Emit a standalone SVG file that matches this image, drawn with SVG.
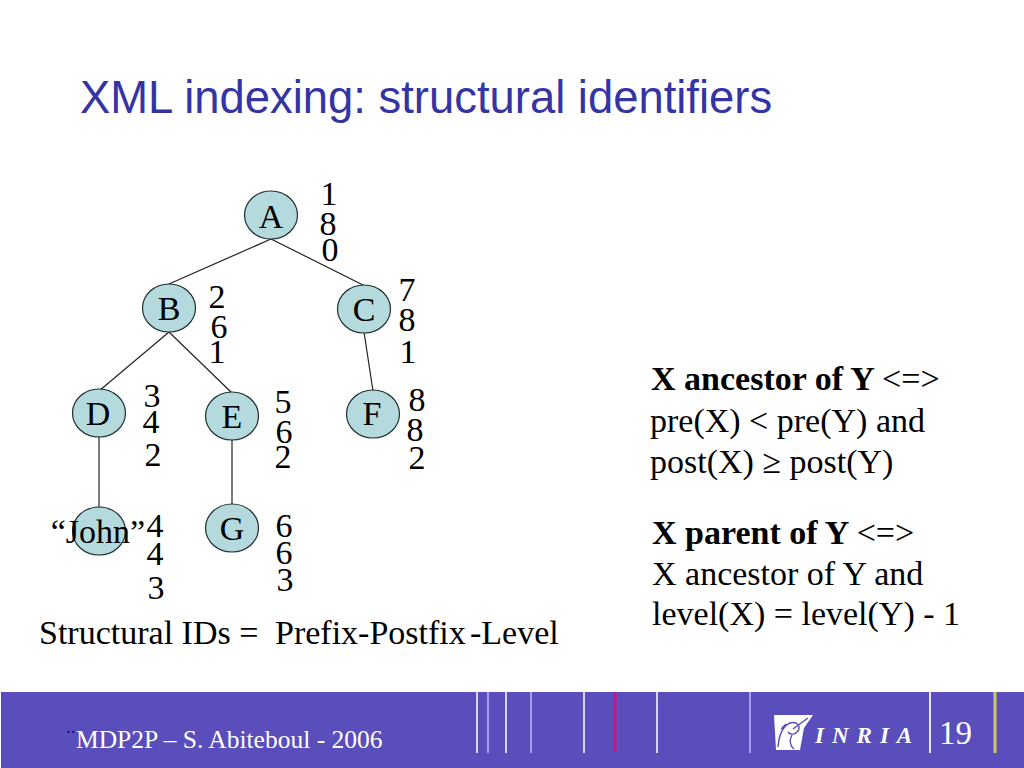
<svg xmlns="http://www.w3.org/2000/svg" width="1024" height="768" viewBox="0 0 1024 768">
<style>
text{font-family:"Liberation Serif","Times New Roman",serif;fill:#000}
.n{font-size:34px;text-anchor:middle}
.b{font-size:34px}
.bb{font-size:34px;font-weight:bold}
.node{fill:#b4dade;stroke:#1f2f2f;stroke-width:1.2}
.edge{stroke:#222;stroke-width:1.2;fill:none}
.bar{stroke-width:2;fill:none}
</style>
<rect width="1024" height="768" fill="#fff"/>
<text x="80" y="113" style="font-family:'Liberation Sans',Arial,sans-serif;font-size:45.4px;fill:#3434a4">XML indexing: structural identifiers</text>
<g id="connectors">
<line class="edge" x1="271" y1="239" x2="169" y2="284"/>
<line class="edge" x1="271" y1="239" x2="363" y2="285"/>
<line class="edge" x1="169" y1="332" x2="99" y2="391"/>
<line class="edge" x1="169" y1="332" x2="232" y2="393"/>
<line class="edge" x1="364" y1="332" x2="373" y2="391"/>
<line class="edge" x1="99" y1="437" x2="99" y2="507"/>
<line class="edge" x1="232" y1="440" x2="232" y2="504"/>
</g>
<g id="node-A"><ellipse class="node" cx="271" cy="215" rx="26.5" ry="24"/><text class="n" x="271" y="228">A</text></g>
<g id="node-B"><ellipse class="node" cx="169" cy="308" rx="26.5" ry="24"/><text class="n" x="169" y="320">B</text></g>
<g id="node-C"><ellipse class="node" cx="364" cy="309" rx="26.5" ry="24"/><text class="n" x="364" y="321">C</text></g>
<g id="node-D"><ellipse class="node" cx="99" cy="413" rx="26.5" ry="24"/><text class="n" x="98" y="425">D</text></g>
<g id="node-E"><ellipse class="node" cx="232" cy="416" rx="26.5" ry="24"/><text class="n" x="232" y="428">E</text></g>
<g id="node-F"><ellipse class="node" cx="373" cy="414" rx="26.5" ry="24"/><text class="n" x="372" y="425">F</text></g>
<g id="node-John"><ellipse class="node" cx="99" cy="531" rx="26.5" ry="24"/><text class="n" x="98" y="543">“John”</text></g>
<g id="node-G"><ellipse class="node" cx="232" cy="528" rx="26.5" ry="24"/><text class="n" x="232" y="540">G</text></g>
<g id="numbers">
<text class="n" x="329" y="205">1</text><text class="n" x="328" y="235">8</text><text class="n" x="330" y="261">0</text>
<text class="n" x="217" y="308">2</text><text class="n" x="219" y="338">6</text><text class="n" x="217" y="363">1</text>
<text class="n" x="407" y="301">7</text><text class="n" x="407" y="331">8</text><text class="n" x="408" y="363">1</text>
<text class="n" x="152" y="407">3</text><text class="n" x="151" y="433">4</text><text class="n" x="153" y="466">2</text>
<text class="n" x="283" y="413">5</text><text class="n" x="284" y="443">6</text><text class="n" x="283" y="468">2</text>
<text class="n" x="417" y="411">8</text><text class="n" x="415" y="441">8</text><text class="n" x="417" y="469">2</text>
<text class="n" x="155" y="537">4</text><text class="n" x="155" y="565">4</text><text class="n" x="156" y="599">3</text>
<text class="n" x="284" y="537">6</text><text class="n" x="284" y="564">6</text><text class="n" x="285" y="591">3</text>
</g>
<g id="caption">
<text class="b" x="39" y="644">Structural IDs =</text>
<text class="b" x="275" y="644">Prefix-Postfix</text>
<text class="b" x="470" y="644">-Level</text>
</g>
<text class="bb" x="651" y="390">X ancestor of Y <tspan font-weight="normal">&lt;=&gt;</tspan></text>
<text class="b" x="650" y="432">pre(X) &lt; pre(Y) and</text>
<text class="b" x="650" y="473">post(X) ≥ post(Y)</text>
<text class="bb" x="652" y="544">X parent of Y <tspan font-weight="normal">&lt;=&gt;</tspan></text>
<text class="b" x="652" y="585">X ancestor of Y and</text>
<text class="b" x="652" y="625">level(X) = level(Y) - 1</text>
<rect x="1" y="692" width="1023" height="76" fill="#5a4ebc"/>
<g id="bars">
<path class="bar" stroke="#d8d4f4" d="M477 692V753M506 692V753M584 692V753M657 692V753"/>
<path class="bar" stroke="#a49cec" d="M488 692V753M531 692V753M750 692V753"/>
<path class="bar" stroke="#cc1480" style="stroke-width:3" d="M615 692V752"/>
<path class="bar" stroke="#e8e6fa" d="M930 692V753"/>
<path class="bar" stroke="#cfc860" style="stroke-width:3" d="M995 692V753"/>
</g>
<text x="66" y="737" style="font-size:14px;font-weight:bold;fill:#10107a">··</text>
<text x="76" y="748" style="font-size:25.5px;fill:#fff">MDP2P – S. Abiteboul - 2006</text>
<g id="logo">
<path fill="#fff" d="M774 715H813L804 728L800 750H776Z"/>
<path fill="none" stroke="#5a4ebc" stroke-width="1.4" d="M778 747C779 735 783 726 790 723C797 721 801 726 798 731C795 735 790 735 788 732M808 718L793 729M781 729L786 724M792 735C789 740 790 746 794 749"/>
</g>
<text x="815" y="743" style="font-size:23px;font-style:italic;font-weight:bold;fill:#fff;letter-spacing:8px">INRIA</text>
<text x="939" y="744" style="font-size:33px;fill:#fff">19</text>
</svg>
